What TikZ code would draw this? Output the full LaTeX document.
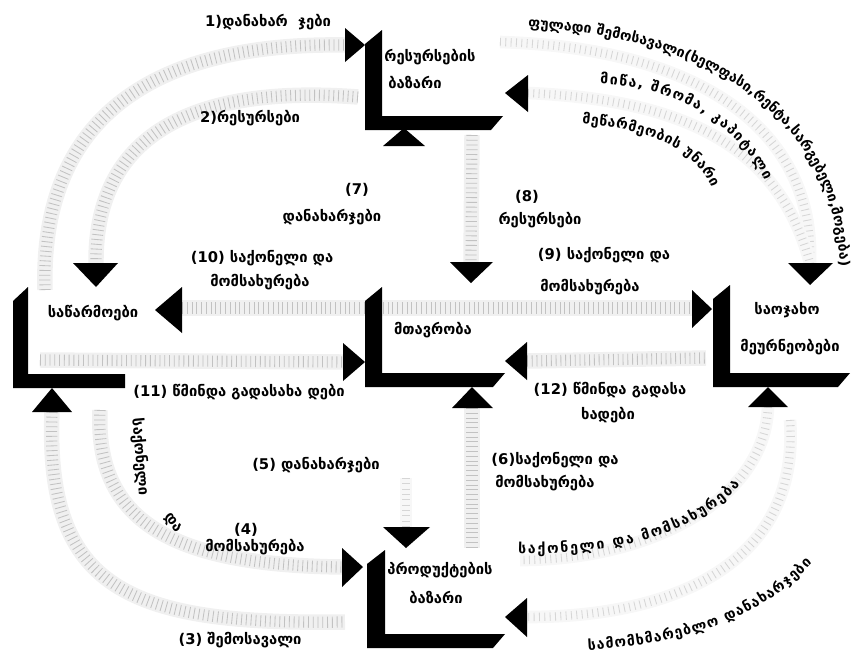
\documentclass[tikz,border=0pt]{standalone}
\usepackage{fontspec}
\setmainfont{DejaVu Sans}
\usetikzlibrary{decorations.text}

\tikzset{
  flow/.style={line width=11pt, draw=black!6, postaction={draw=black!24, line width=8pt, dash pattern=on 0.6pt off 2.8pt}},
  faint/.style={line width=9pt, draw=black!3, postaction={draw=black!16, line width=6pt, dash pattern=on 0.6pt off 3.2pt}},
  bar/.style={fill=black},
  tip/.style={fill=black},
  lbl/.style={font=\bfseries\fontsize{10.5}{12}\selectfont, inner sep=1pt},
  curvetext/.style={decorate, decoration={text along path, text align={fit to path}, text={#1}}},
}

\begin{document}
\begin{tikzpicture}[x=0.025cm, y=0.025cm]
	\useasboundingbox (0,0) rectangle (856,-653);

	\coordinate (res-w) at (345,-45);
	\coordinate (res-e) at (528,-93);
	\coordinate (res-s) at (404,-146);
	\coordinate (res-sw) at (358,-97);
	\coordinate (res-ne) at (500,-42);
	\coordinate (res-se) at (472,-135);
	\coordinate (firm-n) at (96,-263);
	\coordinate (firm-nw) at (45,-290);
	\coordinate (firm-e) at (182,-308);
	\coordinate (firm-se) at (40,-360);
	\coordinate (firm-s) at (52,-412);
	\coordinate (firm-ss) at (100,-410);
	\coordinate (gov-n) at (471,-262);
	\coordinate (gov-w) at (343,-362);
	\coordinate (gov-e) at (527,-361);
	\coordinate (gov-s) at (472,-408);
	\coordinate (gov-sw) at (406,-478);
	\coordinate (hh-w) at (692,-308);
	\coordinate (hh-sw) at (706,-358);
	\coordinate (hh-n) at (810,-263);
	\coordinate (hh-s) at (768,-407);
	\coordinate (hh-se) at (790,-420);
	\coordinate (pm-n) at (406,-527);
	\coordinate (pm-ne) at (472,-548);
	\coordinate (pm-w) at (342,-567);
	\coordinate (pm-sw) at (345,-622);
	\coordinate (pm-ee) at (520,-560);
	\coordinate (pm-e) at (527,-617);

	\draw [flow] (firm-nw) .. controls (40,-120) and (150,-42) .. (res-w);
	\draw [flow] (res-sw) .. controls (200,-85) and (95,-130) .. (firm-n);
	\draw [faint] (res-ne) .. controls (700,-48) and (815,-130) .. (hh-n);
	\draw [faint] (res-e) .. controls (690,-100) and (780,-150) .. (hh-n);
	\draw [flow] (res-se) -- (gov-n);
	\draw [flow] (firm-e) -- (hh-w);
	\draw [flow] (firm-se) -- (gov-w);
	\draw [flow] (gov-e) -- (hh-sw);
	\draw [flow] (gov-s) -- (pm-ne);
	\draw [faint] (gov-sw) -- (pm-n);
	\draw [flow] (firm-s) .. controls (45,-590) and (130,-625) .. (pm-sw);
	\draw [flow] (firm-ss) .. controls (95,-520) and (170,-565) .. (pm-w);
	\draw [faint] (hh-s) .. controls (765,-500) and (650,-560) .. (pm-ee);
	\draw [faint] (hh-se) .. controls (800,-560) and (680,-617) .. (pm-e);

	\fill [bar] (365,-44) -- (382,-30) -- (382,-116) -- (503,-116) -- (491,-130) -- (365,-130) -- cycle;
	\fill [bar] (13,-301) -- (28,-287) -- (28,-374) -- (125,-374) -- (125,-388) -- (13,-388) -- cycle;
	\fill [bar] (365,-301) -- (382,-287) -- (382,-373) -- (505,-373) -- (493,-387) -- (365,-387) -- cycle;
	\fill [bar] (713,-299) -- (730,-285) -- (730,-373) -- (850,-373) -- (838,-387) -- (713,-387) -- cycle;
	\fill [bar] (367,-564) -- (385,-550) -- (385,-634) -- (505,-634) -- (493,-648) -- (367,-648) -- cycle;

	\fill [tip] (345,-28) -- (365,-45) -- (345,-62) -- cycle;
	\fill [tip] (528,-75) -- (505,-93) -- (528,-112) -- cycle;
	\fill [tip] (383,-146) -- (404,-128) -- (425,-146) -- cycle;
	\fill [tip] (73,-263) -- (96,-287) -- (118,-263) -- cycle;
	\fill [tip] (182,-287) -- (155,-310) -- (182,-333) -- cycle;
	\fill [tip] (32,-412) -- (52,-388) -- (72,-412) -- cycle;
	\fill [tip] (450,-262) -- (471,-283) -- (493,-262) -- cycle;
	\fill [tip] (343,-343) -- (365,-362) -- (343,-381) -- cycle;
	\fill [tip] (527,-342) -- (505,-361) -- (527,-380) -- cycle;
	\fill [tip] (452,-408) -- (472,-387) -- (493,-408) -- cycle;
	\fill [tip] (692,-290) -- (712,-309) -- (692,-328) -- cycle;
	\fill [tip] (788,-263) -- (810,-285) -- (833,-263) -- cycle;
	\fill [tip] (748,-407) -- (768,-387) -- (788,-407) -- cycle;
	\fill [tip] (383,-527) -- (406,-548) -- (430,-527) -- cycle;
	\fill [tip] (342,-548) -- (363,-567) -- (342,-587) -- cycle;
	\fill [tip] (527,-598) -- (505,-617) -- (527,-637) -- cycle;

	\node [lbl] (resname) at (430,-57) {რესურსების};
	\node [lbl] (resname2) at (415,-82) {ბაზარი};
	\node [lbl] (firmname) at (93,-313) {საწარმოები};
	\node [lbl] (govname) at (433,-330) {მთავრობა};
	\node [lbl] (hhname) at (787,-310) {საოჯახო};
	\node [lbl] (hhname2) at (790,-347) {მეურნეობები};
	\node [lbl] (pmname) at (440,-570) {პროდუქტების};
	\node [lbl] (pmname2) at (436,-597) {ბაზარი};

	\node [lbl] (n1) at (268,-22) {1)დანახარ\ \ ჯები};
	\node [lbl] (n2) at (250,-118) {2)რესურსები};
	\node [lbl] (n7) at (357,-190) {(7)};
	\node [lbl] (n7b) at (332,-217) {დანახარჯები};
	\node [lbl] (n8) at (527,-197) {(8)};
	\node [lbl] (n8b) at (540,-220) {რესურსები};
	\node [lbl] (n10) at (262,-258) {(10) საქონელი და};
	\node [lbl] (n10b) at (260,-282) {მომსახურება};
	\node [lbl] (n9) at (604,-255) {(9) საქონელი და};
	\node [lbl] (n9b) at (590,-287) {მომსახურება};
	\node [lbl] (n11) at (239,-392) {(11) წმინდა გადასახა დები};
	\node [lbl] (n12) at (610,-390) {(12) წმინდა გადასა};
	\node [lbl] (n12b) at (608,-415) {ხადები};
	\node [lbl] (n5) at (316,-465) {(5) დანახარჯები};
	\node [lbl] (n6) at (555,-460) {(6)საქონელი და};
	\node [lbl] (n6b) at (545,-483) {მომსახურება};
	\node [lbl] (n4) at (246,-530) {(4)};
	\node [lbl] (n4b) at (255,-547) {მომსახურება};
	\node [lbl, rotate=-85] (n4c) at (140,-457) {საქონელი};
	\node [lbl, rotate=-55] (n4d) at (173,-523) {და};
	\node [lbl] (n3) at (240,-640) {(3) შემოსავალი};

	{\bfseries\fontsize{10}{12}\selectfont
	\path [curvetext={ფულადი შემოსავალი(ხელფასი,რენტა,სარგებელი,მოგება)}] (528,-28) .. controls (702,-35) and (833,-112) .. (840,-266);
	\path [curvetext={მიწა,   შრომა,  კაპიტალი}] (600,-84) .. controls (675,-86) and (735,-122) .. (765,-180);
	\path [curvetext={მეწარმეობის უნარი}] (582,-124) .. controls (655,-130) and (692,-148) .. (712,-188);
	\path [curvetext={საქონელი   და მომსახურება}] (518,-553) .. controls (600,-556) and (690,-540) .. (740,-485);
	\path [curvetext={სამომხმარებლო დანახარჯები}] (588,-650) .. controls (680,-645) and (760,-620) .. (812,-563);
	}
\end{tikzpicture}
\end{document}
